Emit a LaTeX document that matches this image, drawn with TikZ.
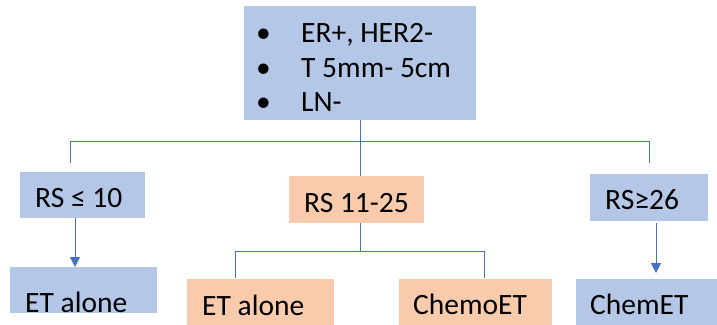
\documentclass[tikz,border=0pt]{standalone}
\usepackage{fontspec}
\setmainfont{Carlito}
\usetikzlibrary{arrows.meta}
\definecolor{boxblue}{HTML}{B4C7E7}
\definecolor{boxorange}{HTML}{F8CBAD}
\definecolor{lineblue}{HTML}{4472C4}
\begin{document}
\begin{tikzpicture}[x=1pt,y=-1pt,
 bluebox/.style={fill=boxblue,draw=none,anchor=north west,inner sep=0pt},
 orangebox/.style={fill=boxorange,draw=none,anchor=north west,inner sep=0pt},
 txt/.style={anchor=base west,inner sep=0pt,font=\fontsize{29.5}{35}\selectfont},
 conn/.style={draw=lineblue,line width=1pt},
 arr/.style={conn,-{Triangle[width=10pt,length=10pt]}}]
\useasboundingbox (0,0) rectangle (717,324);
\clip (0,0) rectangle (717,324);
% boxes
\node[bluebox,minimum width=232pt,minimum height=114pt] (top) at (244,6) {};
\node[bluebox,minimum width=125pt,minimum height=46pt] (rs10) at (20,172) {};
\node[bluebox,minimum width=147pt,minimum height=46pt] (et1) at (10,267) {};
\node[orangebox,minimum width=135pt,minimum height=47pt] (rs1125) at (289,176) {};
\node[orangebox,minimum width=147pt,minimum height=50pt] (et2) at (187,279) {};
\node[orangebox,minimum width=153pt,minimum height=50pt] (chemo) at (399,279) {};
\node[bluebox,minimum width=118pt,minimum height=47pt] (rs26) at (590,174) {};
\node[bluebox,minimum width=150pt,minimum height=50pt] (chem) at (576,279) {};
% texts
\node[txt] (b1) at (256,42) {•};
\node[txt] (b2) at (256,77) {•};
\node[txt] (b3) at (256,111) {•};
\node[txt] (t1) at (301,42) {ER+, HER2-};
\node[txt] (t2) at (301,77) {T 5mm- 5cm};
\node[txt] (t3) at (301,111) {LN-};
\node[txt] (l1) at (35,207) {RS ≤ 10};
\node[txt] (l2) at (25,312) {ET alone};
\node[txt] (l3) at (304,212) {RS 11-25};
\node[txt] (l4) at (202,315) {ET alone};
\node[txt] (l5) at (413,314) {ChemoET};
\node[txt] (l6) at (605,209) {RS≥26};
\node[txt] (l7) at (590,314) {ChemET};
% connectors
\coordinate (dl) at (70,163);
\coordinate (dr) at (649,163);
\coordinate (ml) at (235,278);
\coordinate (mr) at (484,278);
\coordinate (a1) at (75,0);
\coordinate (a2) at (656,0);
\draw[conn] (top.south) -- ++(0,21) -| (dl);
\draw[conn] (top.south) -- ++(0,21) -| (dr);
\draw[conn] (top.south) -- (top.south |- rs1125.north);
\draw[conn] (top.south |- rs1125.south) -- ++(0,28) -| (ml);
\draw[conn] (top.south |- rs1125.south) -- ++(0,28) -| (mr);
\draw[arr] (rs10.south -| a1) -- (et1.north -| a1);
\draw[arr,shorten <=2pt,shorten >=6pt] (rs26.south -| a2) -- (chem.north -| a2);
\end{tikzpicture}
\end{document}
